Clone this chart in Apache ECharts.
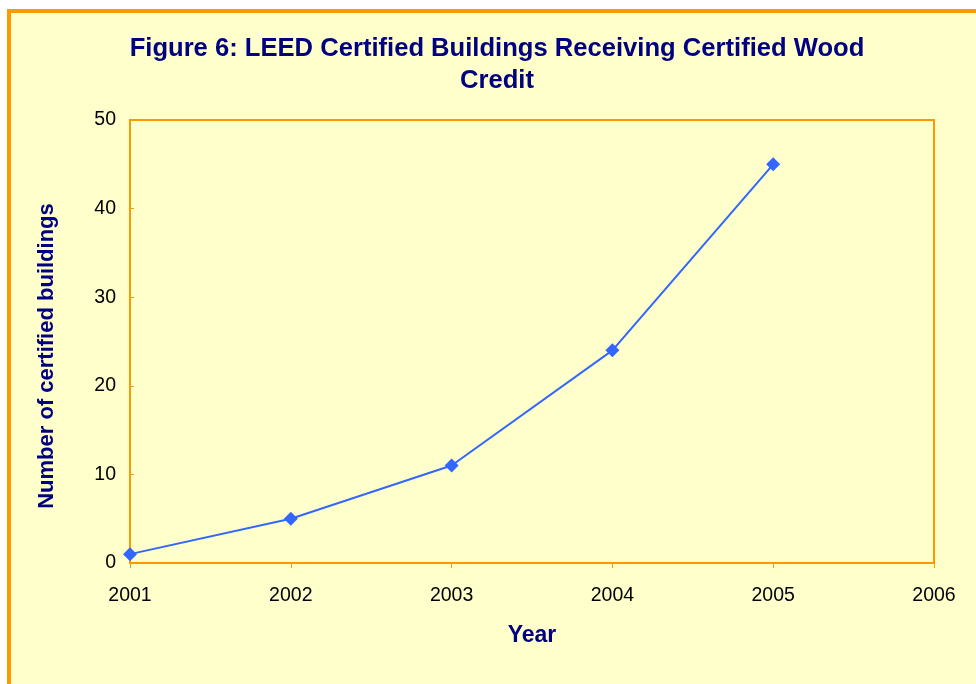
<!DOCTYPE html>
<html>
<head>
<meta charset="utf-8">
<script src="https://cdn.jsdelivr.net/npm/echarts@6/dist/echarts.min.js"></script>
<style>
	html, body { margin: 0; padding: 0; background: #fff; }
	#chart { width: 976px; height: 684px; }
</style>
</head>
<body>
<div id="chart"></div>
<script>
	// 数据
	var years = [2001, 2002, 2003, 2004, 2005];
	var buildings = [1, 5, 11, 24, 45];
	var xTicks = [2001, 2006];   // x 轴范围
	var yTicks = [0, 50, 10];    // min, max, interval

	var navy = '#000080';
	var orange = '#FF9900';
	var font = 'Liberation Sans, Arial, sans-serif';

	var chart = echarts.init(document.getElementById('chart'));
	chart.setOption({
		backgroundColor: '#fff',
		animation: false,
		graphic: [{
			type: 'rect',
			z: -10,
			shape: { x: 9, y: 11, width: 1000, height: 700 },
			style: { fill: '#FFFFCC', stroke: orange, lineWidth: 4 }
		}, {
			// y 轴标题
			type: 'text',
			x: 47,
			y: 356,
			rotation: Math.PI / 2,
			style: {
				text: 'Number of certified buildings',
				fill: navy,
				font: 'bold 22px ' + font,
				align: 'center',
				verticalAlign: 'middle'
			}
		}],
		title: {
			text: 'Figure 6: LEED Certified Buildings Receiving Certified Wood\nCredit',
			left: 492,
			textAlign: 'center',
			top: 28,
			textStyle: {
				color: navy,
				fontFamily: font,
				fontWeight: 'bold',
				fontSize: 25.6,
				lineHeight: 32
			}
		},
		grid: {
			left: 130,
			top: 120,
			right: 42,
			bottom: 121,
			show: true,
			backgroundColor: 'transparent',
			borderColor: orange,
			borderWidth: 2
		},
		xAxis: {
			type: 'value',
			min: xTicks[0],
			max: xTicks[1],
			interval: 1,
			name: 'Year',
			nameLocation: 'middle',
			nameGap: 61,
			nameTextStyle: {
				color: navy, fontWeight: 'bold', fontSize: 23, fontFamily: font
			},
			axisLine: { lineStyle: { color: orange, width: 2 } },
			axisTick: { show: true, length: 5, lineStyle: { color: orange } },
			splitLine: { show: false },
			axisLabel: {
				color: '#000', fontSize: 19.5, margin: 23, fontFamily: font,
				formatter: function (v) { return String(v); }
			}
		},
		yAxis: {
			type: 'value',
			min: yTicks[0],
			max: yTicks[1],
			interval: yTicks[2],
			axisLine: { show: true, lineStyle: { color: orange, width: 2 } },
			axisTick: { show: true, inside: true, length: 4, lineStyle: { color: orange } },
			splitLine: { show: false },
			axisLabel: {
				color: '#000', fontSize: 19.5, margin: 14, fontFamily: font
			}
		},
		series: [{
			type: 'line',
			data: years.map(function (y, i) { return [y, buildings[i]]; }),
			symbol: 'diamond',
			symbolSize: [14, 14],
			lineStyle: { color: '#3366FF', width: 2 },
			itemStyle: { color: '#3366FF' }
		}]
	});
</script>
</body>
</html>
